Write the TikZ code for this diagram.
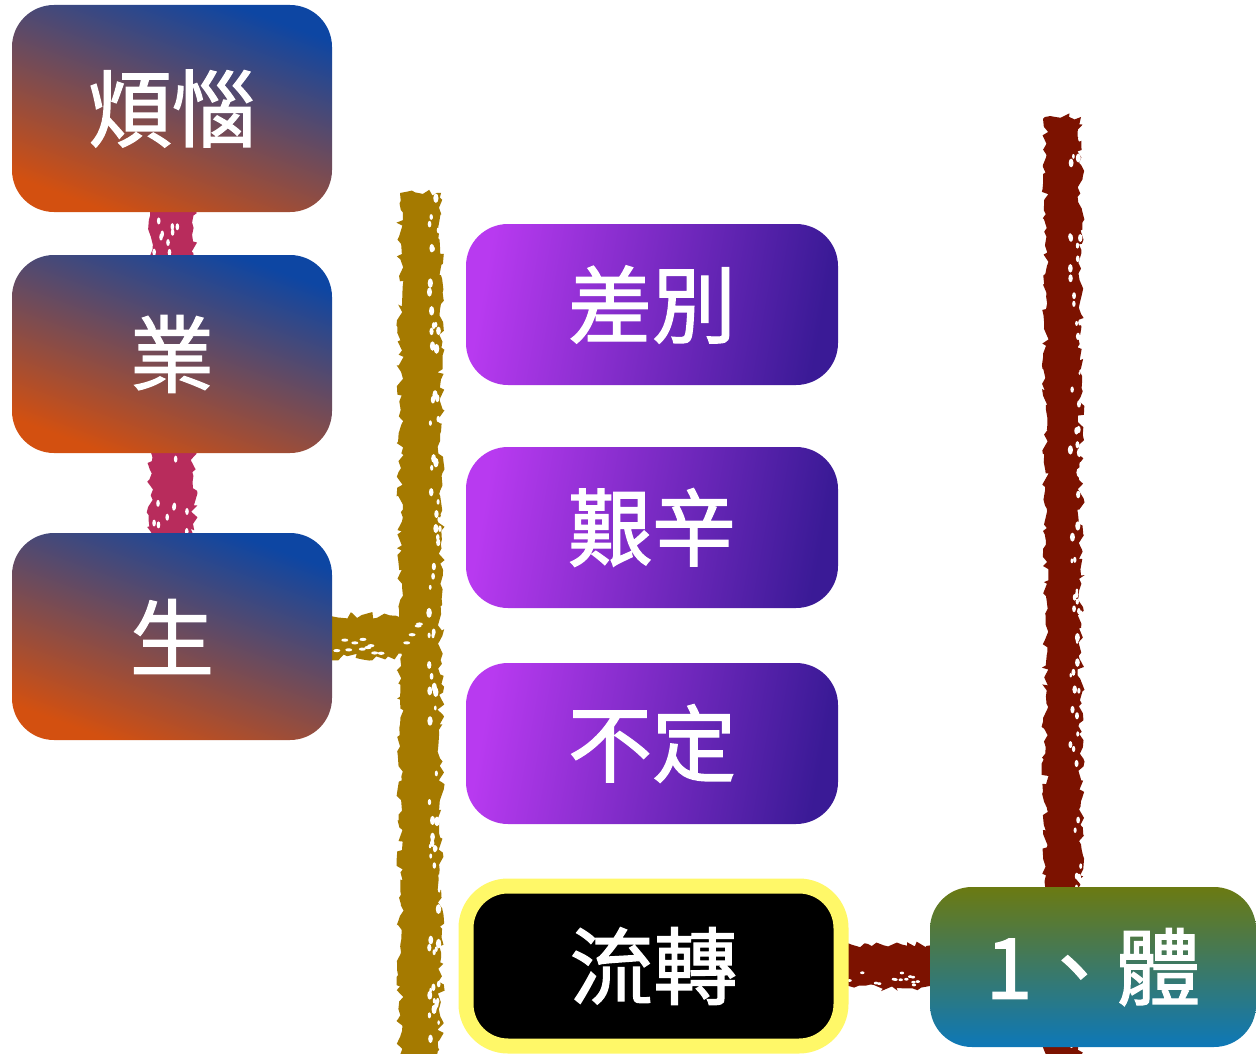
\documentclass[tikz,border=0pt]{standalone}
\usepackage{fontspec}
\newfontfamily\cjk{Noto Sans CJK TC}[FakeBold=1.6]
\usetikzlibrary{decorations.pathmorphing,calc}
\definecolor{ob}{HTML}{D35010}
\definecolor{bt}{HTML}{0D46A3}
\definecolor{pl}{HTML}{B83AF0}
\definecolor{pr}{HTML}{3A1A96}
\definecolor{gtop}{HTML}{6B7A12}
\definecolor{gbot}{HTML}{0D78B8}
\definecolor{goldc}{HTML}{A57A00}
\definecolor{pinkc}{HTML}{B82C5C}
\definecolor{redc}{HTML}{7C1200}
\definecolor{yelc}{HTML}{FFF868}
\pgfdeclarelayer{bg}
\pgfsetlayers{bg,main}
\begin{document}
\begin{tikzpicture}[x=1pt,y=-1pt,
  box/.style={rectangle, rounded corners=42pt, text=white, inner sep=0pt,
    font=\cjk\fontsize{84}{100}\selectfont},
  leftbox/.style={box, minimum width=320, minimum height=207, top color=bt, bottom color=ob, shading angle=-20},
  purplebox/.style={box, minimum width=372, minimum height=161, left color=pl, right color=pr, shading angle=80},
  roughfill/.style={fill=#1, decorate, decoration={random steps, segment length=5pt, amplitude=3.6pt}},
  speck/.style={fill=white}]
\pgfmathsetseed{11}
\useasboundingbox (0,0) rectangle (1256,1054);

% left column
\node[leftbox] (h1) at (172,108.5) {煩惱};
\node[leftbox, minimum height=198] (h2) at (172,354) {業};
\node[leftbox] (h3) at (172,636.5) {生};

% middle column
\node[purplebox] (p1) at (652,304.5) {差別};
\node[purplebox] (p2) at (652,527.5) {艱辛};
\node[purplebox] (p3) at (652,743.5) {不定};
\node[box, minimum width=375, minimum height=160, fill=black, draw=yelc, line width=15pt] (lz) at (653.5,966) {流轉};

% right
\node[box, minimum width=326, minimum height=160, top color=gtop, bottom color=gbot] (t1) at (1093,967) {1、體};

% connector end points
\coordinate (gt) at (420,193);
\coordinate (gb) at (420,1062);
\coordinate (gj) at (420,636);
\coordinate (rt) at (1063,117);
\coordinate (rb) at (1063,1062);

\begin{pgfonlayer}{bg}
  \fill[white] (0,0) rectangle (1256,1054);
  % pink links
  \fill[roughfill=pinkc] ($(h1.south)+(-22,-4)$) rectangle ($(h2.north)+(22,4)$);
  \fill[roughfill=pinkc] ($(h2.south)+(-22,-4)$) rectangle ($(h3.north)+(22,4)$);
  % gold bar
  \fill[roughfill=goldc] ($(gt)+(-20,0)$) rectangle ($(gb)+(21,0)$);
  \fill[roughfill=goldc] ($(h3.east)+(-4,-21)$) rectangle ($(gj)+(0,21)$);
  % dark red bar
  \fill[roughfill=redc] ($(rt)+(-18,0)$) rectangle ($(rb)+(18,0)$);
  \fill[roughfill=redc] ($(lz.east)+(-4,-21)$) rectangle ($(t1.west)+(4,21)$);
  % speckles
  \foreach \k in {1,...,80}{
    \pgfmathsetmacro\tt{rnd}
    \pgfmathsetmacro\dx{9+rnd*11}
    \pgfmathsetmacro\rr{1.2+rnd*1.6}
    \fill[speck] ($(gt)!\tt!(gb)+(\dx,0)$) ellipse ({\rr} and {1.8*\rr});
  }
  \foreach \k in {1,...,70}{
    \pgfmathsetmacro\tt{rnd}
    \pgfmathsetmacro\dx{7+rnd*11}
    \pgfmathsetmacro\rr{1.1+rnd*1.5}
    \fill[speck] ($(rt)!\tt!(rb)+(\dx,0)$) ellipse ({\rr} and {1.8*\rr});
  }
  \foreach \k in {1,...,14}{
    \pgfmathsetmacro\tt{rnd}
    \pgfmathsetmacro\dy{rnd*36-18}
    \fill[speck] ($(h3.east)!\tt!(gj)+(0,\dy)$) ellipse (3.5 and 1.6);
    \pgfmathsetmacro\ta{rnd}
    \pgfmathsetmacro\db{6+rnd*13}
    \fill[speck] ($(lz.east)!\ta!(t1.west)+(0,\db)$) ellipse (2.2 and 1.4);
  }
  \foreach \k in {1,...,9}{
    \pgfmathsetmacro\tt{rnd}
    \pgfmathsetmacro\dx{rnd*36-18}
    \fill[speck] ($(h1.south)!\tt!(h2.north)+(\dx,0)$) ellipse (1.8 and 3.5);
    \pgfmathsetmacro\ta{rnd}
    \pgfmathsetmacro\db{rnd*36-18}
    \fill[speck] ($(h2.south)!\ta!(h3.north)+(\db,0)$) ellipse (1.8 and 3.5);
  }
\end{pgfonlayer}
\end{tikzpicture}
\end{document}
